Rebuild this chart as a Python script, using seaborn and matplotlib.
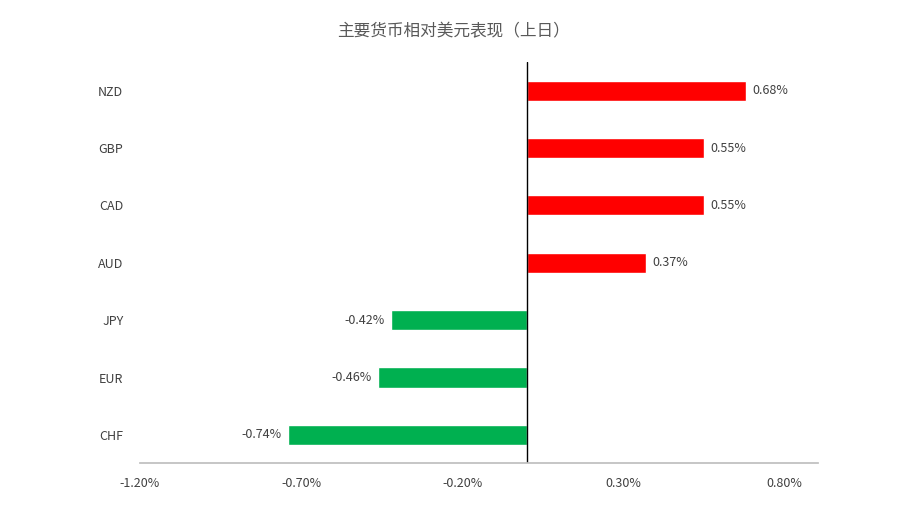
import matplotlib
matplotlib.use("Agg")
import matplotlib.pyplot as plt
import seaborn as sns
import pandas as pd

currencies = ["NZD", "GBP", "CAD", "AUD", "JPY", "EUR", "CHF"]
values = [0.68, 0.55, 0.55, 0.37, -0.42, -0.46, -0.74]
xticks = [-1.2, -0.7, -0.2, 0.3, 0.8]

sns.set_theme(style="white")
plt.rcParams['font.family'] = ['Noto Sans CJK SC', 'DejaVu Sans']

df = pd.DataFrame({"cur": currencies, "val": values})
colors = ["#FF0000" if v > 0 else "#00B050" for v in values]

fig = plt.figure(figsize=(9.07, 5.15), dpi=100)
ax = fig.add_axes([140/907, 1-463/515, 678/907, 401/515])
sns.barplot(data=df, y="cur", x="val", hue="cur", palette=colors, legend=False,
            orient="h", width=0.35, ax=ax, saturation=1)
ax.set_xlim(-1.2, 0.905)
ax.set_ylim(6.49, -0.5)
ax.set_xticks(xticks)
ax.set_xticklabels([f"{t:.2f}%" for t in xticks], fontsize=9, color="#404040")
ax.tick_params(axis="y", labelsize=9, labelcolor="#404040", pad=12, length=0)
ax.tick_params(axis="x", length=0, pad=10)
ax.set_xlabel("")
ax.set_ylabel("")
for s in ["top", "right", "left"]:
    ax.spines[s].set_visible(False)
ax.spines["bottom"].set_color("#BFBFBF")
ax.axvline(0, color="black", lw=1)
for i, v in enumerate(values):
    if v > 0:
        ax.text(v + 0.02, i, f"{v:.2f}%", va="center", ha="left", fontsize=9, color="#404040")
    else:
        ax.text(v - 0.02, i, f"{v:.2f}%", va="center", ha="right", fontsize=9, color="#404040")
fig.text(0.5, 1-32/515, "主要货币相对美元表现（上日）", ha="center", va="center",
         fontsize=12, color="#595959")
fig.savefig("out.png", dpi=100)
